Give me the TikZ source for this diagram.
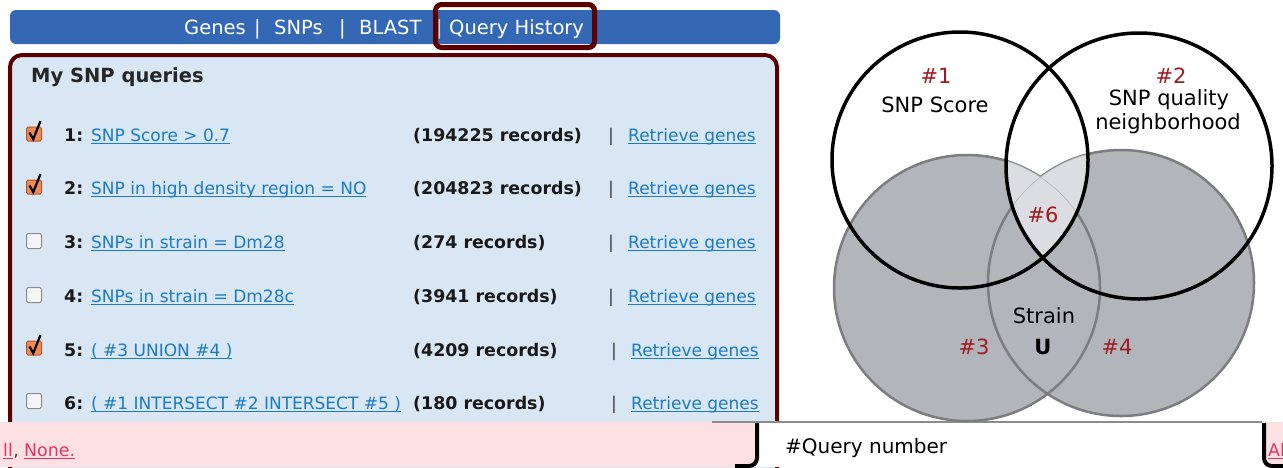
\documentclass[tikz,border=0pt]{standalone}
\usepackage{fontspec}
\setmainfont{DejaVu Sans}

\definecolor{navblue}{HTML}{3568B4}
\definecolor{panelbg}{HTML}{D9E6F3}
\definecolor{maroon}{HTML}{5A0000}
\definecolor{linkblue}{HTML}{1B7BC3}
\definecolor{pinkbg}{HTML}{FDE1E2}
\definecolor{pinklink}{HTML}{E0356B}
\definecolor{tickorange}{HTML}{F08A56}
\definecolor{tickedge}{HTML}{B5552F}
\definecolor{vgray}{HTML}{B2B6BB}
\definecolor{vedge}{HTML}{7B7D80}
\definecolor{vlight}{HTML}{DCDDE0}
\definecolor{qred}{HTML}{9E1B21}

% underlined link text
\newcommand\ulk[1]{\setbox0\hbox{#1}\rlap{\rule[-3pt]{\wd0}{1.1pt}}\box0}

\tikzset{
  navtxt/.style={text=white, font=\fontsize{19.5}{22}\selectfont, anchor=base west, inner sep=0pt},
  rowtxt/.style={font=\fontsize{17.4}{20}\selectfont, anchor=base west, inner sep=0pt, text=black!90},
  rowbold/.style={rowtxt, font=\fontsize{17.4}{20}\selectfont\bfseries},
  rowlink/.style={rowtxt, font=\fontsize{17}{20}\selectfont, text=linkblue},
  pinklnk/.style={rowtxt, text=pinklink},
  boxon/.style={draw=tickedge, fill=tickorange, rounded corners=1.5pt, minimum width=15pt,
    minimum height=14pt, inner sep=0pt, line width=1pt},
  boxoff/.style={draw=black!45, fill=black!4, rounded corners=1.5pt, minimum width=15pt,
    minimum height=15pt, inner sep=0pt, line width=1pt},
  tickmark/.style={line width=2.2pt, line join=miter},
  vlabel/.style={font=\fontsize{21}{24}\selectfont, anchor=base, inner sep=0pt},
  vnum/.style={vlabel, text=qred},
}

\begin{document}
\begin{tikzpicture}[x=1pt, y=-1pt]
\useasboundingbox (0,0) rectangle (1283,467);
\fill[white] (0,0) rectangle (1283,467);

% ---------- navigation bar ----------
\node[fill=navblue, rounded corners=6pt, minimum width=770pt, minimum height=34pt, inner sep=0pt] (nav) at (395,27) {};
\node[navtxt] (nGenes) at (184,34) {Genes};
\node[navtxt] (s1) at (254,34) {|};
\node[navtxt] (nSNPs) at (274,34) {SNPs};
\node[navtxt] (s2) at (339,34) {|};
\node[navtxt] (nBLAST) at (359,34) {BLAST};
\node[navtxt, text=white!70!navblue] (s3) at (436,34) {|};
\node[navtxt] (nQH) at (449,34) {Query History};
\node[draw=maroon, line width=5pt, rounded corners=6pt, minimum width=159pt, minimum height=43pt, inner sep=0pt] (hl) at (515,26) {};

% ---------- query panel ----------
\draw[maroon, line width=4pt, fill=panelbg, rounded corners=12pt] (10,480) -- (10,55) -- (777,55) -- (777,480);
\node[rowtxt, font=\fontsize{19.5}{22}\selectfont\bfseries, text=black!85] (title) at (31,82) {My SNP queries};

\foreach \n/\yb/\q/\r/\bx in {
  1/141/{SNP Score > 0.7}/{(194225 records)}/608,
  2/194/{SNP in high density region = NO}/{(204823 records)}/608,
  3/248/{SNPs in strain = Dm28}/{(274 records)}/608,
  4/302/{SNPs in strain = Dm28c}/{(3941 records)}/608,
  5/356/{( \#3 UNION \#4 )}/{(4209 records)}/611,
  6/409/{( \#1 INTERSECT \#2 INTERSECT \#5 )}/{(180 records)}/611}{
  \node[rowbold] (num\n) at (64,\yb) {\n:};
  \node[rowlink] (q\n) at (91,\yb) {\ulk{\q}};
  \node[rowbold] (rec\n) at (413,\yb) {\r};
  \node[rowtxt, text=black!75] (bar\n) at (\bx,\yb) {|};
  \node[rowlink] (rg\n) at (\bx+20,\yb) {\ulk{Retrieve genes}};
}

% check boxes
\node[boxon] (chk1) at (34,134) {};
\node[boxon] (chk2) at (34,187) {};
\node[boxoff] (chk3) at (34,241) {};
\node[boxoff] (chk4) at (34,295) {};
\node[boxon] (chk5) at (34,348) {};
\node[boxoff] (chk6) at (34,401) {};
\foreach \c in {chk1,chk2,chk5}{
  \draw[tickmark] ([shift={(-4.5,-1.5)}]\c.center) -- ([shift={(-0.8,5.2)}]\c.center) -- ([shift={(6.5,-13)}]\c.center);
}

% ---------- bottom strip ----------
\fill[pinkbg] (0,422) rectangle (755,467);
\fill[white] (755,422) rectangle (1264,467);
\fill[pinkbg] (1264,422) rectangle (1283,467);
\draw[black!45, line width=1.2pt] (712,422) -- (1262,422);
\draw[line width=4pt, rounded corners=8pt] (757,423) -- (757,466) -- (735,466);
\draw[line width=4pt, rounded corners=8pt] (1264,423) -- (1264,466) -- (1290,466);
\node[pinklnk] (allL) at (3,456) {\ulk{ll}};
\node[rowtxt, text=black!70, anchor=base west] (comma) at (allL.base east) {,\kern5pt};
\node[pinklnk, anchor=base west] (none) at (comma.base east) {\ulk{None.}};
\node[pinklnk] (allR) at (1268,456) {\ulk{Al}};
\node[vlabel, font=\fontsize{20}{24}\selectfont, anchor=base west] (qnum) at (785,453) {\#Query number};

% ---------- Venn diagram ----------
\coordinate (c1) at (960,160);
\coordinate (c2) at (1139,166);
\coordinate (c3) at (967,288);
\coordinate (c4) at (1121,283);
\fill[vgray] (c3) circle[radius=133pt] (c4) circle[radius=133pt];
\draw[vedge, line width=2.5pt] (c3) circle[radius=133pt] (c4) circle[radius=133pt];
\begin{scope}
  \clip (c1) circle[radius=128pt];
  \clip (c2) circle[radius=133pt];
  \fill[vlight] (c3) circle[radius=133pt] (c4) circle[radius=133pt];
  \draw[black!30, line width=0.6pt] (c3) circle[radius=133pt] (c4) circle[radius=133pt];
\end{scope}
\draw[black, line width=3.5pt] (c1) circle[radius=128pt] (c2) circle[radius=133pt];

\node[vnum] (h1) at (936,83) {\#1};
\node[vlabel] (l1) at (935,112) {SNP Score};
\node[vnum] (h2) at (1171,83) {\#2};
\node[vlabel] (l2a) at (1169,105) {SNP quality};
\node[vlabel] (l2b) at (1168,129) {neighborhood};
\node[vnum] (h6) at (1043,222) {\#6};
\node[vlabel] (ls) at (1044,323) {Strain};
\node[vlabel, font=\fontsize{21}{24}\selectfont\bfseries] (lu) at (1043,354) {U};
\node[vnum] (h3) at (974,354) {\#3};
\node[vnum] (h4) at (1117,354) {\#4};
\end{tikzpicture}
\end{document}
